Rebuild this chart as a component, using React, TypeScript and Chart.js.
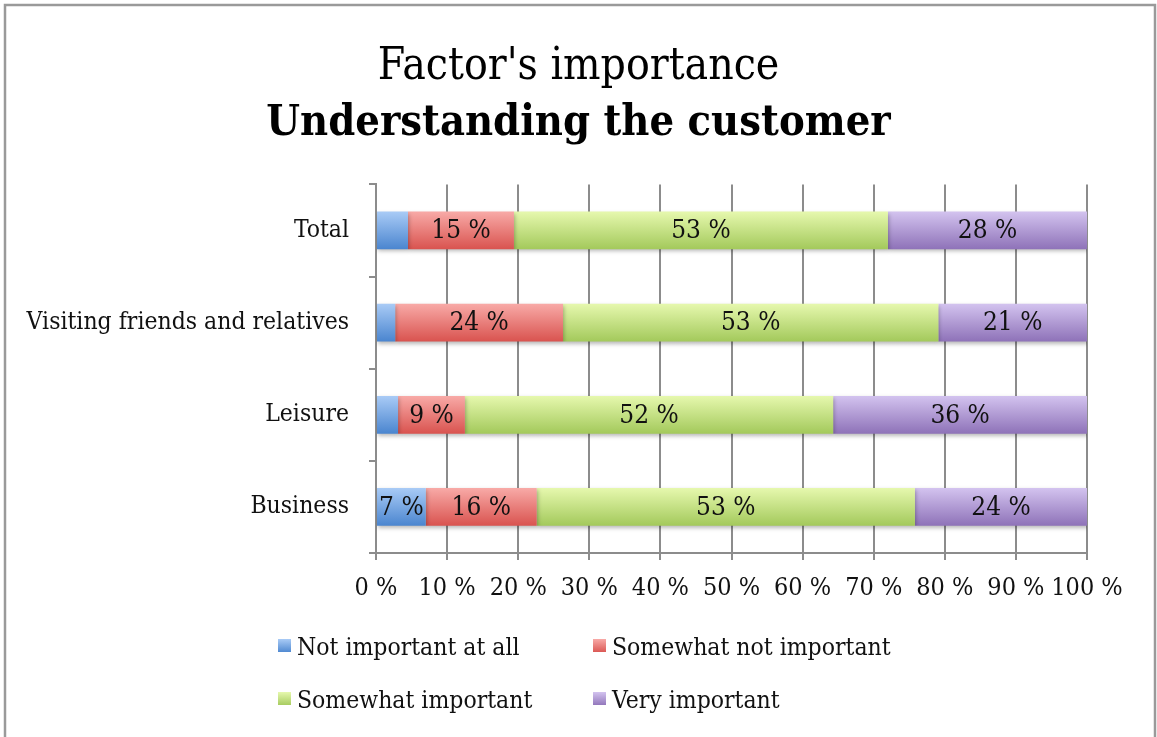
import React, { useEffect, useRef } from "react";
import { Chart, registerables } from "chart.js";

Chart.register(...registerables);

const categories = ["Total", "Visiting friends and relatives", "Leisure", "Business"];
const seriesNames = ["Not important at all", "Somewhat not important", "Somewhat important", "Very important"];
const notImportantAtAll = [4.5, 2.7, 3.1, 7.0];
const somewhatNotImportant = [14.9, 23.6, 9.4, 15.6];
const somewhatImportant = [52.6, 52.8, 51.8, 53.2];
const veryImportant = [28.0, 20.9, 35.7, 24.2];
const xTicks = [0, 10, 20, 30, 40, 50, 60, 70, 80, 90, 100];

const gradTop = ["#a9cbf6", "#f8aaa7", "#e6f8ae", "#d3c3ef"];
const gradBottom = ["#4a85cf", "#d9534f", "#a3c95b", "#8e72b8"];

const FONT = "'DejaVu Serif Condensed', 'DejaVu Serif', serif";
const BAR_PCT = 0.41;

export default function App() {
  const ref = useRef<HTMLCanvasElement | null>(null);

  useEffect(() => {
    document.body.style.margin = "0";
    const canvas = ref.current;
    if (!canvas) return;

    const makeBg = (i: number) => (ctx: any) => {
      const chart = ctx.chart;
      const ca = chart.chartArea;
      if (!ca || ctx.dataIndex === undefined || !chart.scales.y) return gradBottom[i];
      const yc = chart.scales.y.getPixelForValue(ctx.dataIndex);
      const h = ((ca.bottom - ca.top) / categories.length) * BAR_PCT;
      const g = chart.ctx.createLinearGradient(0, yc - h / 2, 0, yc + h / 2);
      g.addColorStop(0, gradTop[i]);
      g.addColorStop(1, gradBottom[i]);
      return g;
    };

    const seriesData = [notImportantAtAll, somewhatNotImportant, somewhatImportant, veryImportant];

    const decor = {
      id: "decor",
      beforeDraw(chart: any) {
        const c = chart.ctx;
        c.save();
        c.fillStyle = "#fff";
        c.fillRect(0, 0, chart.width, chart.height);
        c.strokeStyle = "#9a9a9a";
        c.lineWidth = 2.5;
        c.strokeRect(5, 5, 1150, 800);
        c.restore();
      },
      beforeDatasetsDraw(chart: any) {
        const c = chart.ctx;
        c.save();
        c.shadowColor = "rgba(0,0,0,0.28)";
        c.shadowBlur = 4;
        c.shadowOffsetX = 1;
        c.shadowOffsetY = 2;
      },
      afterDatasetsDraw(chart: any) {
        const c = chart.ctx;
        c.restore();
        c.save();
        c.font = `26px ${FONT}`;
        c.fillStyle = "#111";
        c.textAlign = "center";
        c.textBaseline = "middle";
        chart.data.datasets.forEach((ds: any, di: number) => {
          const meta = chart.getDatasetMeta(di);
          meta.data.forEach((el: any, i: number) => {
            const v = ds.data[i];
            if (v < 5) return;
            const cx = (el.x + el.base) / 2;
            c.fillText(`${Math.round(v)} %`, cx, el.y + 1);
          });
        });
        c.restore();
      },
      afterDraw(chart: any) {
        const c = chart.ctx;
        c.save();
        const boxX = [278, 593];
        const textX = [297, 612];
        const rows = [646, 699];
        seriesNames.forEach((name, i) => {
          const col = i % 2;
          const y = rows[Math.floor(i / 2)];
          const g = c.createLinearGradient(0, y - 7, 0, y + 7);
          g.addColorStop(0, gradTop[i]);
          g.addColorStop(1, gradBottom[i]);
          c.fillStyle = g;
          c.fillRect(boxX[col], y - 7, 13, 13);
          c.fillStyle = "#111";
          c.font = `24.5px ${FONT}`;
          c.textAlign = "left";
          c.textBaseline = "middle";
          c.fillText(name, textX[col], y + 3);
        });
        c.restore();
      },
    };

    const chart = new Chart(canvas, {
      type: "bar",
      data: {
        labels: categories,
        datasets: seriesNames.map((name, i) => ({
          label: name,
          data: seriesData[i],
          backgroundColor: makeBg(i),
          borderWidth: 0,
          barPercentage: BAR_PCT,
          categoryPercentage: 1,
        })),
      },
      options: {
        indexAxis: "y",
        responsive: false,
        animation: false,
        layout: { padding: { left: 0, right: 0, top: 13, bottom: 124 } },
        plugins: {
          legend: { display: false },
          tooltip: { enabled: false },
          title: {
            display: true,
            text: "Factor's importance",
            color: "#000",
            font: { family: FONT, size: 44, weight: "normal", lineHeight: 1.2 },
            padding: { top: 28, bottom: 4 },
          },
          subtitle: {
            display: true,
            text: "Understanding the customer",
            color: "#000",
            font: { family: FONT, size: 43, weight: "bold", lineHeight: 1.2 },
            padding: { top: 0, bottom: 35 },
          },
        },
        scales: {
          x: {
            stacked: true,
            min: 0,
            max: 100,
            afterBuildTicks: (scale: any) => {
              scale.ticks = xTicks.map((v) => ({ value: v }));
            },
            afterFit: (scale: any) => {
              scale.height = 60;
              scale.paddingRight = 70;
            },
            ticks: {
              color: "#111",
              font: { family: FONT, size: 25 },
              padding: 13,
              maxRotation: 0,
              autoSkip: false,
              callback: (v: any) => `${v} %`,
            },
            grid: { color: "#8c8c8c", lineWidth: 2, tickLength: 7 },
            border: { color: "#8c8c8c", width: 2 },
          },
          y: {
            stacked: true,
            afterFit: (scale: any) => {
              scale.width = 376;
            },
            ticks: {
              color: "#111",
              font: { family: FONT, size: 24.5 },
              padding: 20,
            },
            grid: { offset: true, drawOnChartArea: false, color: "#8c8c8c", lineWidth: 2, tickLength: 7 },
            border: { color: "#8c8c8c", width: 2 },
          },
        },
      },
      plugins: [decor],
    });

    return () => chart.destroy();
  }, []);

  return (
    <div style={{ width: 1157, height: 737 }}>
      <canvas ref={ref} width={1157} height={737} style={{ display: "block" }} />
    </div>
  );
}
